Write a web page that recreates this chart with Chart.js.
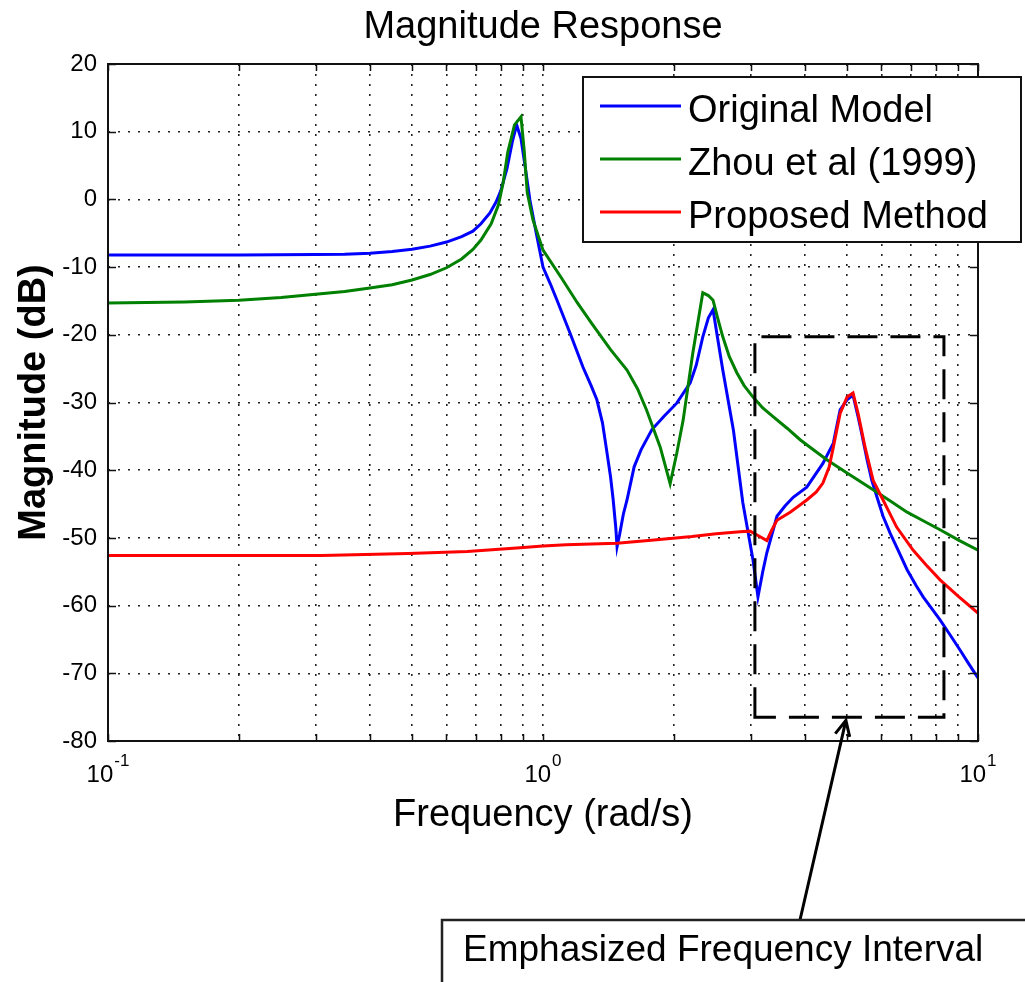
<!DOCTYPE html>
<html>
<head>
<meta charset="utf-8">
<title>Magnitude Response</title>
<script src="https://cdn.jsdelivr.net/npm/chart.js@4.4.1/dist/chart.umd.min.js"></script>
<style>
  html, body { margin: 0; padding: 0; background: #fff; }
  canvas { display: block; }
</style>
</head>
<body>
<canvas id="bodeChart" width="1025" height="982"></canvas>
<script>
// Frequency (rad/s) and magnitude (dB) samples for each curve
const freqOriginal = [0.1, 0.2, 0.3, 0.35, 0.4, 0.45, 0.5, 0.55, 0.6, 0.65, 0.69, 0.72, 0.755, 0.78, 0.80, 0.826, 0.85, 0.87,
  0.89, 0.91, 0.933, 0.965, 1.0, 1.04, 1.077, 1.153, 1.236, 1.29, 1.33, 1.37, 1.40, 1.43, 1.45, 1.47, 1.48, 1.50, 1.53, 1.56,
  1.62, 1.68, 1.78, 1.9, 2.03, 2.18, 2.25, 2.33, 2.40, 2.46, 2.52, 2.59, 2.74, 2.88, 3.04, 3.12, 3.20, 3.27, 3.45, 3.60,
  3.76, 4.04, 4.40, 4.65, 4.82, 5.0, 5.16, 5.30, 5.40, 5.56, 5.70, 5.86, 6.05, 6.28, 6.55, 6.87, 7.2, 7.48, 7.8, 8.18,
  8.6, 9.1, 9.5, 10];
const magOriginal = [-8.2, -8.2, -8.15, -8.1, -7.95, -7.7, -7.35, -6.9, -6.3, -5.5, -4.7, -3.6, -2.0, -0.4, 1.3, 4.5, 8.5, 11.0,
  9.0, 4.8, -0.1, -5.0, -10.0, -12.5, -14.9, -19.7, -24.8, -27.5, -29.6, -33.0, -37.0, -41.0, -44.4, -48.5, -51.3, -49.5, -46.5, -44.4,
  -39.5, -37.0, -34.0, -32.0, -30.1, -27.1, -24.5, -20.3, -17.5, -16.3, -20.5, -25.2, -34.1, -44.8, -53.3, -58.7, -55.0, -52.2, -46.8, -45.3,
  -44.0, -42.5, -39.0, -36.0, -31.1, -29.6, -28.9, -32.1, -34.5, -38.5, -41.5, -44.0, -46.8, -49.3, -51.8, -54.7, -57.0, -58.7, -60.3, -62.1,
  -64.2, -66.6, -68.5, -70.7];

const freqZhou = [0.1, 0.15, 0.2, 0.25, 0.3, 0.35, 0.4, 0.45, 0.5, 0.55, 0.6, 0.65, 0.69, 0.72, 0.76, 0.79, 0.81, 0.83,
  0.86, 0.89, 0.905, 0.92, 0.948, 1.0, 1.1, 1.2, 1.3, 1.43, 1.56, 1.65, 1.73, 1.86, 1.96, 2.03, 2.10, 2.21, 2.33, 2.40,
  2.46, 2.52, 2.59, 2.68, 2.79, 2.9, 3.04, 3.2, 3.38, 3.64, 3.90, 4.11, 4.50, 5.0, 5.74, 6.3, 6.87, 7.5, 8.18, 9.0, 10];
const magZhou = [-15.3, -15.15, -14.9, -14.5, -14.0, -13.6, -13.1, -12.6, -11.9, -11.1, -10.1, -8.8, -7.4, -6.0, -3.6, -0.8, 2.5, 7.0,
  11.0, 12.2, 7.3, 1.0, -3.0, -7.5, -11.5, -15.3, -18.5, -22.2, -25.2, -28.0, -31.1, -36.6, -42.0, -37.5, -32.6, -22.7, -13.8, -14.2,
  -14.9, -17.5, -20.3, -23.2, -25.6, -27.5, -29.2, -30.8, -32.1, -33.8, -35.5, -36.6, -38.5, -40.4, -42.9, -44.6, -46.2, -47.5, -48.8, -50.3, -51.8];

const freqProposed = [0.1, 0.31, 0.49, 0.67, 0.87, 1.0, 1.13, 1.48, 1.8, 2.2, 2.5, 2.84, 2.99, 3.15, 3.27, 3.36, 3.45, 3.70,
  4.04, 4.25, 4.40, 4.55, 4.65, 4.82, 5.0, 5.16, 5.30, 5.50, 5.74, 6.05, 6.50, 7.09, 7.6, 8.18, 9.0, 10];
const magProposed = [-52.6, -52.6, -52.3, -52.0, -51.5, -51.2, -51.0, -50.8, -50.3, -49.8, -49.4, -49.1, -49.0, -49.8, -50.4, -48.8, -47.4, -46.2,
  -44.4, -43.2, -41.9, -39.5, -36.6, -31.6, -29.2, -28.6, -31.6, -36.6, -41.5, -44.4, -48.4, -51.8, -54.0, -56.2, -58.6, -61.1];

const seriesNames = ['Original Model', 'Zhou et al (1999)', 'Proposed Method'];
const seriesColors = ['#0000ff', '#008000', '#ff0000'];

// log grid lines and decade tick labels
const gridFreqs = [0.1, 0.2, 0.3, 0.4, 0.5, 0.6, 0.7, 0.8, 0.9, 1, 2, 3, 4, 5, 6, 7, 8, 9, 10];
const decadeTicks = [0.1, 1, 10];
const decadeExponents = ['-1', '0', '1'];

// emphasized interval (dashed box) and the point the arrow aims at
const bandFreq = [3.07, 8.35];
const bandDb = [-76.5, -20.3];
const arrowFreq = 4.97;
const noteText = 'Emphasized Frequency Interval';

const FONT = '"Liberation Sans", Arial, Helvetica, sans-serif';
Chart.defaults.font.family = FONT;
Chart.defaults.color = '#000';

function toPoints(fs, ms) {
  return fs.map((f, i) => ({ x: f, y: ms[i] }));
}

// frame, inner ticks, decade labels, legend and the annotation
const matlabAxes = {
  id: 'matlabAxes',
  afterDatasetsDraw(chart) {
    const ctx = chart.ctx;
    const area = chart.chartArea;
    const xs = chart.scales.x;
    const ys = chart.scales.y;
    ctx.save();

    // dashed box around the emphasized interval
    const bx0 = xs.getPixelForValue(bandFreq[0]);
    const bx1 = xs.getPixelForValue(bandFreq[1]);
    const by0 = ys.getPixelForValue(bandDb[1]);
    const by1 = ys.getPixelForValue(bandDb[0]);
    ctx.strokeStyle = '#000';
    ctx.lineWidth = 3;
    ctx.setLineDash([30, 13]);
    ctx.beginPath();
    ctx.moveTo(bx0, by1);
    ctx.lineTo(bx0, by0);
    ctx.lineTo(bx1, by0);
    ctx.lineTo(bx1, by1);
    ctx.closePath();
    ctx.stroke();
    ctx.setLineDash([]);

    // plot frame
    ctx.lineWidth = 2;
    ctx.strokeStyle = '#111';
    ctx.strokeRect(area.left, area.top, area.right - area.left, area.bottom - area.top);

    // tick marks pointing into the plot
    ctx.lineWidth = 1.5;
    ctx.beginPath();
    xs.ticks.forEach(t => {
      const px = Math.round(xs.getPixelForValue(t.value)) + 0.5;
      ctx.moveTo(px, area.bottom); ctx.lineTo(px, area.bottom - 7);
      ctx.moveTo(px, area.top); ctx.lineTo(px, area.top + 7);
    });
    ys.ticks.forEach(t => {
      const py = Math.round(ys.getPixelForValue(t.value)) + 0.5;
      ctx.moveTo(area.left, py); ctx.lineTo(area.left + 8, py);
      ctx.moveTo(area.right, py); ctx.lineTo(area.right - 8, py);
    });
    ctx.stroke();

    // decade labels 10^n
    ctx.fillStyle = '#000';
    ctx.textBaseline = 'alphabetic';
    ctx.textAlign = 'left';
    decadeTicks.forEach((v, i) => {
      const px = xs.getPixelForValue(v);
      ctx.font = '24px ' + FONT;
      const wBase = ctx.measureText('10').width;
      ctx.font = '17px ' + FONT;
      const wExp = ctx.measureText(decadeExponents[i]).width;
      const start = px - (wBase + wExp + 1) / 2;
      ctx.font = '24px ' + FONT;
      ctx.fillText('10', start, area.bottom + 41);
      ctx.font = '17px ' + FONT;
      ctx.fillText(decadeExponents[i], start + wBase + 1, area.bottom + 25);
    });

    // arrow from the note up to the dashed box
    const tipX = xs.getPixelForValue(arrowFreq);
    const tipY = by1 + 3;
    const tailX = 800, tailY = 920;
    const ang = Math.atan2(tipY - tailY, tipX - tailX);
    ctx.lineWidth = 3;
    ctx.strokeStyle = '#000';
    ctx.beginPath();
    ctx.moveTo(tailX, tailY);
    ctx.lineTo(tipX, tipY);
    ctx.moveTo(tipX - 17 * Math.cos(ang - 0.45), tipY - 17 * Math.sin(ang - 0.45));
    ctx.lineTo(tipX, tipY);
    ctx.lineTo(tipX - 17 * Math.cos(ang + 0.45), tipY - 17 * Math.sin(ang + 0.45));
    ctx.stroke();

    // note box
    ctx.lineWidth = 2.5;
    ctx.strokeStyle = '#222';
    ctx.fillStyle = '#fff';
    ctx.fillRect(442, 920, 700, 200);
    ctx.strokeRect(442, 920, 700, 200);
    ctx.fillStyle = '#000';
    ctx.font = '37px ' + FONT;
    ctx.fillText(noteText, 463, 961);

    // legend
    const lg = { left: 583, top: 77, right: 1021, bottom: 242 };
    ctx.fillStyle = '#fff';
    ctx.fillRect(lg.left, lg.top, lg.right - lg.left, lg.bottom - lg.top);
    ctx.lineWidth = 2;
    ctx.strokeStyle = '#111';
    ctx.strokeRect(lg.left, lg.top, lg.right - lg.left, lg.bottom - lg.top);
    ctx.font = '38px ' + FONT;
    chart.data.datasets.forEach((ds, i) => {
      const rowY = 106 + i * 53;
      ctx.strokeStyle = ds.borderColor;
      ctx.lineWidth = 3;
      ctx.beginPath();
      ctx.moveTo(600, rowY);
      ctx.lineTo(681, rowY);
      ctx.stroke();
      ctx.fillStyle = '#000';
      ctx.fillText(ds.label, 688, rowY + 16);
    });

    ctx.restore();
  }
};

const gridStyle = { color: '#222', lineWidth: 1.6, drawTicks: false };
const dotted = { display: false, dash: [2, 8] };

const ctx = document.getElementById('bodeChart').getContext('2d');
new Chart(ctx, {
  type: 'line',
  data: {
    datasets: [
      { label: seriesNames[0], data: toPoints(freqOriginal, magOriginal), borderColor: seriesColors[0], order: 3 },
      { label: seriesNames[1], data: toPoints(freqZhou, magZhou), borderColor: seriesColors[1], order: 2 },
      { label: seriesNames[2], data: toPoints(freqProposed, magProposed), borderColor: seriesColors[2], order: 1 }
    ]
  },
  options: {
    responsive: false,
    animation: false,
    elements: {
      line: { borderWidth: 3, tension: 0, fill: false },
      point: { radius: 0 }
    },
    layout: { padding: { left: 0, right: 47, top: 0, bottom: 0 }, autoPadding: false },
    plugins: {
      legend: { display: false },
      tooltip: { enabled: false },
      title: {
        display: true,
        text: 'Magnitude Response',
        fullSize: false,
        color: '#000',
        font: { size: 38, weight: 'normal', lineHeight: 1.2 },
        padding: { top: 5, bottom: 13.4 }
      }
    },
    scales: {
      x: {
        type: 'logarithmic',
        min: 0.1,
        max: 10,
        afterBuildTicks: scale => { scale.ticks = gridFreqs.map(v => ({ value: v })); },
        afterFit: scale => { scale.height = 241; },
        ticks: { display: false },
        grid: gridStyle,
        border: dotted,
        title: {
          display: true,
          text: 'Frequency (rad/s)',
          color: '#000',
          font: { size: 38, lineHeight: 1.2 },
          padding: { top: 0, bottom: 144 }
        }
      },
      y: {
        min: -80,
        max: 20,
        afterFit: scale => { scale.width = 108; },
        ticks: { stepSize: 10, padding: 11, color: '#000', font: { size: 24 } },
        grid: gridStyle,
        border: dotted,
        title: {
          display: true,
          text: 'Magnitude (dB)',
          color: '#000',
          font: { size: 38, weight: 'bold', lineHeight: 1.2 },
          padding: { top: 12, bottom: 0 }
        }
      }
    }
  },
  plugins: [matlabAxes]
});
</script>
</body>
</html>
